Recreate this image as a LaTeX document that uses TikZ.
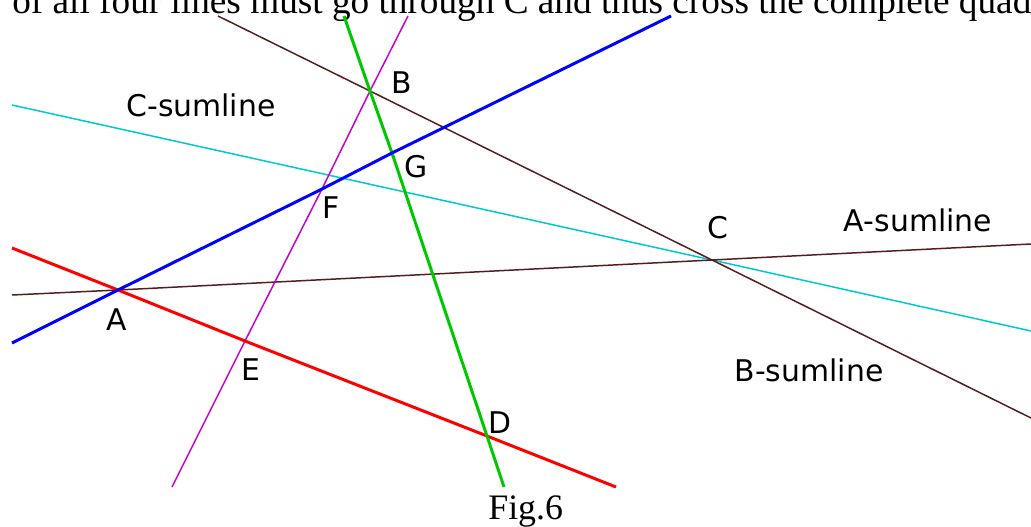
\documentclass[tikz,border=0pt]{standalone}
\usepackage{fontspec}
\setmainfont{Liberation Serif}
\newfontfamily\labelfont{DejaVu Sans}
\definecolor{sumbrown}{RGB}{85,30,30}
\definecolor{sumcyan}{RGB}{0,200,205}
\definecolor{linegreen}{RGB}{0,200,0}
\definecolor{linemagenta}{RGB}{200,0,210}
\begin{document}
\begin{tikzpicture}[
  x=0.02cm, y=-0.02cm,
  every node/.style={inner sep=0pt},
  pt/.style={font=\labelfont\fontsize{17}{20}\selectfont},
  thin line/.style={line width=0.85pt},
  thick line/.style={line width=1.7pt}
]
  \useasboundingbox (0,0) rectangle (1031,527);
  \begin{scope}
    \clip (0,0) rectangle (1031,527);
    \node[anchor=base west,font=\fontsize{21.2}{25}\selectfont] (top) at (12,14)
      {of all four lines must go through C and thus cross the complete quad};
  \end{scope}

  % intersection points
  \coordinate (A) at (118,290);
  \coordinate (B) at (370,91);
  \coordinate (C) at (712,260);
  \coordinate (D) at (487,436);
  \coordinate (E) at (245,341);
  \coordinate (F) at (322,189);
  \coordinate (G) at (392,153);

  % ends of the lines on the frame
  \coordinate (blue1) at (12,343);   \coordinate (blue2) at (671,16);
  \coordinate (red1) at (12,248);    \coordinate (red2) at (616,487);
  \coordinate (green1) at (344,16);  \coordinate (green2) at (504,487);
  \coordinate (mag1) at (408,16);    \coordinate (mag2) at (172,487);
  \coordinate (bc1) at (218,16);     \coordinate (bc2) at (1031,418);
  \coordinate (ac1) at (12,295);     \coordinate (ac2) at (1031,244);
  \coordinate (cyan1) at (12,105);   \coordinate (cyan2) at (1031,331);

  \draw[thin line,sumcyan] (cyan1)--(C)--(cyan2);
  \draw[thin line,sumbrown] (ac1)--(A)--(C)--(ac2);
  \draw[thin line,sumbrown] (bc1)--(B)--(C)--(bc2);
  \draw[thin line,linemagenta] (mag1)--(B)--(F)--(E)--(mag2);
  \draw[thick line,red] (red1)--(A)--(E)--(D)--(red2);
  \draw[thick line,linegreen] (green1)--(B)--(G)--(D)--(green2);
  \draw[thick line,blue] (blue1)--(A)--(F)--(G)--(blue2);

  \node[pt] (lA) at (117,320) {A};
  \node[pt] (lB) at (402,83)  {B};
  \node[pt] (lC) at (718,228) {C};
  \node[pt] (lD) at (500,423) {D};
  \node[pt] (lE) at (251,370) {E};
  \node[pt] (lF) at (331,208) {F};
  \node[pt] (lG) at (416,167) {G};

  \node[pt] (asum) at (918,220) {A-sumline};
  \node[pt] (bsum) at (809,370) {B-sumline};
  \node[pt] (csum) at (201,105) {C-sumline};

  \node[anchor=base west,font=\fontsize{20.4}{24}\selectfont] (fig) at (488,519) {Fig.6};
\end{tikzpicture}
\end{document}
